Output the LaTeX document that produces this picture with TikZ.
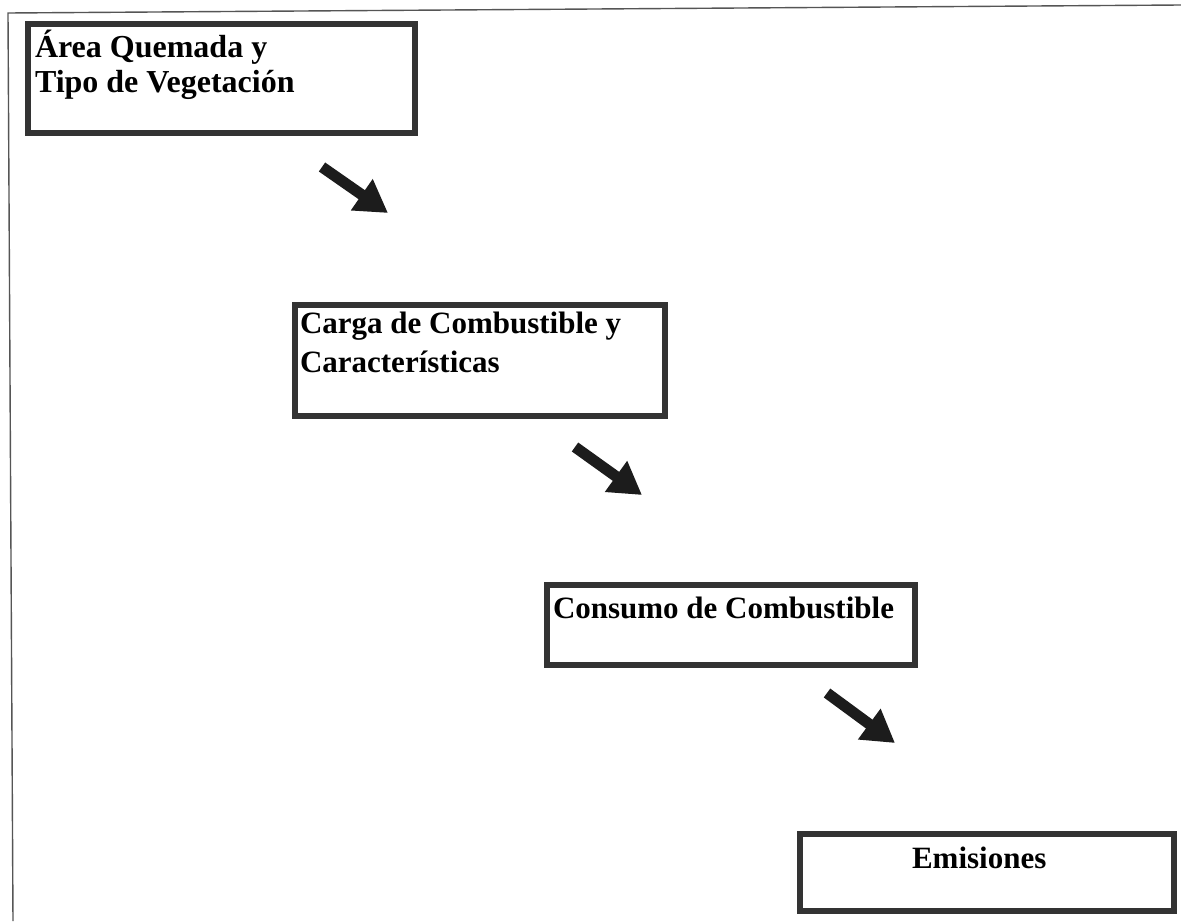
\documentclass[tikz,border=0pt]{standalone}
\usepackage{fontspec}
\setmainfont{Liberation Serif}
\usetikzlibrary{arrows.meta}

\definecolor{boxline}{HTML}{333333}
\definecolor{arrowink}{HTML}{1C1C1C}
\definecolor{frameline}{HTML}{555555}

\tikzset{
  stagebox/.style={draw=boxline, line width=3pt, fill=none, rectangle,
    inner sep=0pt, outer sep=0pt, anchor=north west},
  stagetext/.style={inner sep=0pt, outer sep=0pt, anchor=base west,
    font=\bfseries\fontsize{15.5pt}{17.5pt}\selectfont},
  flowarrow/.style={draw=arrowink, line width=5.5pt,
    -{Triangle[width=18pt,length=16pt]}, arrowink},
  frame/.style={draw=frameline, line width=0.7pt}
}

\begin{document}
\begin{tikzpicture}[x=0.5pt, y=-0.5pt]
  \useasboundingbox (0,0) rectangle (1181,921);
  \fill[white] (0,0) rectangle (1181,921);

  % page frame (top and left edges)
  \coordinate (fr-tl) at (8,13);
  \coordinate (fr-tr) at (1181,5);
  \coordinate (fr-bl) at (13,921);
  \draw[frame] (fr-tr) -- (fr-tl) -- (fr-bl);

  % stage boxes
  \node[stagebox, minimum width=193.5pt, minimum height=54.5pt] (area) at (28,24) {};
  \node[stagebox, minimum width=185pt, minimum height=55.5pt] (carga) at (295,305) {};
  \node[stagebox, minimum width=184pt, minimum height=40pt] (consumo) at (547,585) {};
  \node[stagebox, minimum width=187pt, minimum height=38.5pt] (emis) at (800,834) {};

  % stage labels
  \node[stagetext, font=\bfseries\fontsize{16pt}{17.5pt}\selectfont] (area-t) at (35,57)
    {\parbox[t]{190pt}{\raggedright Área Quemada y\\Tipo de Vegetación}};
  \node[stagetext, font=\bfseries\fontsize{15.5pt}{19.5pt}\selectfont] (carga-t) at (300,333)
    {\parbox[t]{185pt}{\raggedright Carga de Combustible y\\Características}};
  \node[stagetext] (consumo-t) at (553,618) {Consumo de Combustible};
  \node[stagetext] (emis-t) at (912,868) {Emisiones};

  % flow arrows between stages
  \coordinate (a1-s) at (322,167);
  \coordinate (a1-e) at (388,213);
  \coordinate (a2-s) at (575,447);
  \coordinate (a2-e) at (642,495);
  \coordinate (a3-s) at (827,693);
  \coordinate (a3-e) at (895,743);
  \draw[flowarrow] (a1-s) -- (a1-e);
  \draw[flowarrow] (a2-s) -- (a2-e);
  \draw[flowarrow] (a3-s) -- (a3-e);
\end{tikzpicture}
\end{document}
